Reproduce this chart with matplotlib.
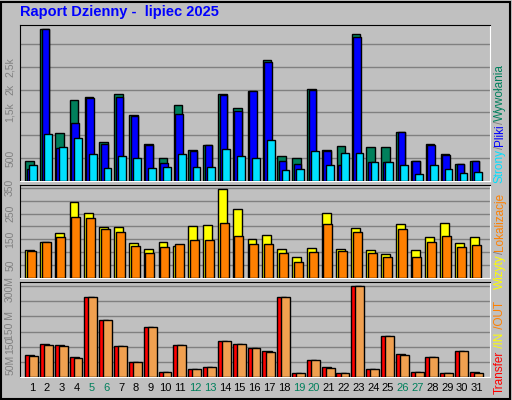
import numpy as np
import matplotlib
matplotlib.use("Agg")
import matplotlib.pyplot as plt

plt.rcParams['font.family'] = ['Liberation Sans', 'DejaVu Sans']

days = list(range(1, 32))
weekend = [5, 6, 12, 13, 19, 20, 26, 27]

# top panel: hits / files / pages
hits = [445, 3336, 1058, 1766, 1847, 861, 1912, 1453, 818, 511, 1672, 686, 796, 1912, 1606,
        1964, 2657, 540, 511, 2022, 686, 774, 3212, 737, 737, 1080, 445, 818, 599, 380, 445]
files = [255, 3336, 723, 1277, 1825, 803, 1847, 1431, 781, 401, 1474, 650, 781, 1891, 1526,
         1964, 2599, 445, 365, 2000, 664, 343, 3146, 423, 409, 1080, 430, 796, 562, 365, 445]
pages = [343, 1036, 737, 934, 584, 277, 540, 496, 277, 299, 584, 299, 299, 693, 540,
         496, 905, 234, 255, 650, 343, 606, 606, 423, 423, 343, 146, 343, 270, 168, 204]

# middle panel: visits / sites
visits = [108, 139, 174, 295, 252, 197, 197, 135, 112, 139, 123, 201, 205, 345, 268,
          151, 166, 112, 81, 116, 252, 112, 194, 108, 92, 209, 108, 158, 213, 135, 158]
sites = [104, 139, 158, 236, 232, 190, 178, 123, 96, 119, 131, 147, 147, 213, 162,
         131, 131, 96, 61, 100, 209, 104, 178, 96, 81, 190, 81, 139, 162, 119, 127]

# bottom panel: transfer (MB)
kbytes = [72, 108, 105, 65, 264, 188, 102, 49, 164, 15, 105, 25, 32, 118, 108,
          95, 85, 264, 12, 55, 32, 12, 300, 25, 135, 75, 15, 65, 12, 85, 15]
kb_out = [68, 105, 102, 62, 264, 188, 102, 49, 164, 15, 105, 25, 32, 118, 108,
          95, 82, 264, 12, 55, 29, 12, 300, 25, 135, 72, 15, 65, 12, 85, 12]

BG = '#c0c0c0'
GRID = '#808080'
W, H = 512, 400

fig = plt.figure(figsize=(W / 100, H / 100), dpi=100, facecolor=BG)


def px_axes(x0, y0, x1, y1):
    ax = fig.add_axes([x0 / W, 1 - y1 / H, (x1 - x0) / W, (y1 - y0) / H])
    ax.set_facecolor(BG)
    ax.set_xlim(0.19, 31.88)
    ax.set_xticks([])
    ax.set_yticks([])
    for side in ['left', 'top']:
        ax.spines[side].set_color('black')
    for side in ['bottom', 'right']:
        ax.spines[side].set_color('white')
    return ax


x = np.array(days)
kw = dict(align='edge', edgecolor='black', linewidth=1, zorder=3)
YL = -0.021  # y label position in axes fraction (~10 px from left edge)

# top
ax1 = px_axes(20, 25, 490, 181)
ax1.set_ylim(0, 3416)
for g in range(500, 3500, 500):
    ax1.axhline(g, color=GRID, lw=1, zorder=1)
ax1.bar(x - 0.45, hits, 0.58, color='#00805c', **kw)
ax1.bar(x - 0.35, files, 0.5, color='#0000ff', **kw)
ax1.bar(x - 0.17, pages, 0.52, color='#00e0ff', **kw)
for v, t in [(500, '500'), (1500, '1,5k'), (2000, '2k'), (2500, '2,5k')]:
    ax1.text(YL, v, t, transform=ax1.get_yaxis_transform(), rotation=90,
             ha='center', va='center', color=GRID, fontsize=7.5)

# middle
ax2 = px_axes(20, 185, 490, 278)
ax2.set_ylim(0, 361)
for g in range(50, 400, 50):
    ax2.axhline(g, color=GRID, lw=1, zorder=1)
ax2.bar(x - 0.47, visits, 0.6, color='#ffff00', **kw)
ax2.bar(x - 0.35, sites, 0.6, color='#ff8000', **kw)
for v in [50, 150, 250, 350]:
    ax2.text(YL, v, str(v), transform=ax2.get_yaxis_transform(), rotation=90,
             ha='center', va='center', color=GRID, fontsize=7.5)

# bottom
ax3 = px_axes(20, 282, 490, 377)
ax3.set_ylim(0, 314)
for g in range(50, 350, 50):
    ax3.axhline(g, color=GRID, lw=1, zorder=1)
ax3.bar(x - 0.47, kbytes, 0.62, color='#ff0000', **kw)
ax3.bar(x - 0.2, kb_out, 0.6, color='#f0a050', **kw)
for v, t in [(40, '50M'), (105, '150'), (170, '150 M'), (292, '300M')]:
    ax3.text(YL, v, t, transform=ax3.get_yaxis_transform(), rotation=90,
             ha='center', va='center', color=GRID, fontsize=7.5)

# day labels
for d in days:
    ax3.text(d, -0.12, str(d), transform=ax3.get_xaxis_transform(), ha='center', va='center',
             fontsize=8, color='#00805c' if d in weekend else 'black')

fig.text(20 / W, 1 - 12 / H, 'Raport Dzienny -  lipiec 2025', color='#0000ff',
         fontsize=10.5, fontweight='bold', ha='left', va='center')


def vlabel(parts, xp, ybot):
    # stacked rotated text, reading bottom to top
    y = ybot
    for txt, col in parts:
        t = fig.text(xp / W, 1 - y / H, txt, rotation=90, color=col, fontsize=8.5,
                     ha='center', va='bottom')
        fig.canvas.draw()
        y -= t.get_window_extent().height


vlabel([('Strony', '#00e0ff'), ('/', GRID), ('Pliki', '#0000ff'), ('/', GRID),
        ('Wywołania', '#00805c')], 500, 183)
vlabel([('Wizyty', '#ffff00'), ('/', GRID), ('Lokalizacje', '#ff8000')], 500, 289)
vlabel([('Transfer', '#ff0000'), (' /IN', '#ffff00'), (' /OUT', '#ff8000')], 500, 394)

fig.patches.append(plt.Rectangle((1 / W, 1 / H), 1 - 3 / W, 1 - 3 / H, transform=fig.transFigure,
                                 fill=False, edgecolor='black', lw=1.5))

fig.savefig('out.png', dpi=100, facecolor=BG)
